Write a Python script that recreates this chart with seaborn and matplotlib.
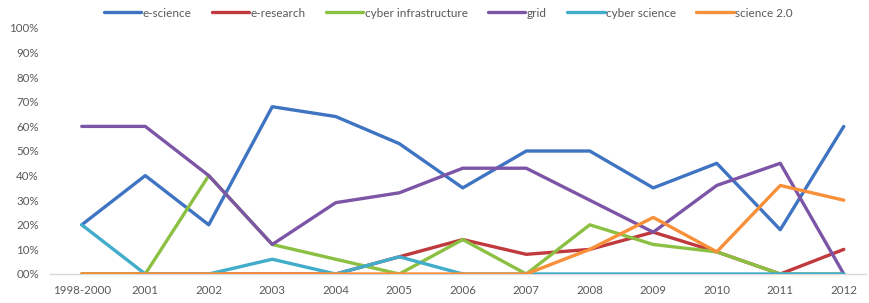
import matplotlib
matplotlib.use("Agg")
import matplotlib.pyplot as plt
import seaborn as sns
import pandas as pd

years = ["1998-2000", "2001", "2002", "2003", "2004", "2005", "2006",
         "2007", "2008", "2009", "2010", "2011", "2012"]

e_science = [20, 40, 20, 68, 64, 53, 35, 50, 50, 35, 45, 18, 60]
e_research = [0, 0, 0, 0, 0, 7, 14, 8, 10, 17, 9, 0, 10]
cyber_infra = [0, 0, 40, 12, 6, 0, 14, 0, 20, 12, 9, 0, 0]
grid = [60, 60, 40, 12, 29, 33, 43, 43, 30, 17, 36, 45, 0]
cyber_science = [20, 0, 0, 6, 0, 7, 0, 0, 0, 0, 0, 0, 0]
science_20 = [0, 0, 0, 0, 0, 0, 0, 0, 10, 23, 9, 36, 30]

series_names = ["e-science", "e-research", "cyber infrastructure", "grid",
                "cyber science", "science 2.0"]
colors = ["#3E74C2", "#C0393D", "#8CC043", "#7D55A6", "#41ADCB", "#F8903A"]

rows = []
for name, vals in zip(series_names, [e_science, e_research, cyber_infra, grid,
                                     cyber_science, science_20]):
    for i, v in enumerate(vals):
        rows.append({"year": i, "share": v / 100, "term": name})
df = pd.DataFrame(rows)

sns.set_style("white")
plt.rcParams["font.family"] = ["Lato", "DejaVu Sans"]

fig = plt.figure(figsize=(8.7, 3.03), dpi=100)
ax = fig.add_axes([50 / 870, 29 / 303, 816 / 870, 246 / 303])

sns.lineplot(data=df, x="year", y="share", hue="term", hue_order=series_names,
             palette=colors, linewidth=2.4, ax=ax, legend=False)
for ln in ax.lines:
    ln.set_solid_joinstyle("round")

ax.set_xlim(-0.5, 12.35)
ax.set_ylim(0, 1)
ax.set_xticks(range(len(years)))
ax.set_xticklabels(years)
yt = [i / 10 for i in range(11)]
ax.set_yticks(yt)
ax.set_yticklabels(["00%"] + [f"{i * 10}%" for i in range(1, 11)])
ax.tick_params(axis="both", labelsize=8.3, colors="#595959", length=0, pad=8)
ax.set_xlabel("")
ax.set_ylabel("")
for s in ["top", "right", "left"]:
    ax.spines[s].set_visible(False)
ax.spines["bottom"].set_color("#D9D9D9")
ax.spines["bottom"].set_linewidth(1)
ax.spines["bottom"].set_zorder(0)

handles = [plt.Line2D([0], [0], color=c, lw=2.4) for c in colors]
fig.legend(handles, series_names, loc="upper center", bbox_to_anchor=(0.515, 1.01),
           ncol=6, frameon=False, fontsize=8.5, handlelength=3.2,
           handletextpad=0.1, columnspacing=1.7, labelcolor="#595959")

fig.savefig("out.png", dpi=100)
